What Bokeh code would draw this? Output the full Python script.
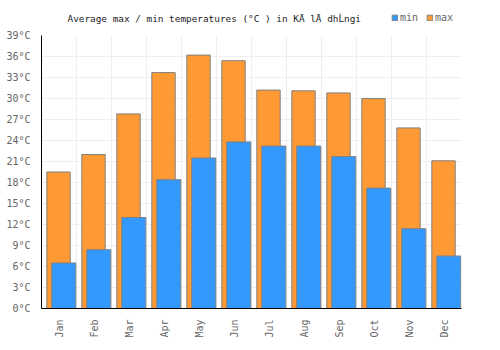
from math import pi
from bokeh.plotting import figure
from bokeh.layouts import column
from bokeh.models import FixedTicker, Label, Legend, LegendItem, ColumnDataSource
from bokeh.embed import file_html
from bokeh.resources import INLINE

months = ["Jan", "Feb", "Mar", "Apr", "May", "Jun", "Jul", "Aug", "Sep", "Oct", "Nov", "Dec"]
t_max = [19.5, 22.0, 27.8, 33.7, 36.2, 35.4, 31.2, 31.1, 30.8, 30.0, 25.8, 21.1]
t_min = [6.5, 8.4, 13.0, 18.4, 21.5, 23.8, 23.2, 23.2, 21.7, 17.2, 11.4, 7.5]
y_ticks = list(range(0, 40, 3))
title_text = "Average max / min temperatures (°C ) in KÄ lÄ dhĹngi"

FONT = "DejaVu Sans Mono"
MAX_COLOR = "#ff9933"
MIN_COLOR = "#3399ff"
EDGE = "#808080"

idx = list(range(len(months)))
src = ColumnDataSource(dict(
    xmax=[i + 0.486 for i in idx],
    xmin=[i + 0.637 for i in idx],
    tmax=t_max,
    tmin=t_min,
))

# ---- header (title + legend) ----
head = figure(width=500, height=25, x_range=(0, 500), y_range=(0, 25),
              x_axis_type=None, y_axis_type=None,
              output_backend="svg", toolbar_location=None,
              min_border=0, min_border_left=0, min_border_right=0,
              min_border_top=0, min_border_bottom=0)
head.outline_line_color = None
head.xgrid.visible = False
head.ygrid.visible = False

# legend proxies: one off-screen bar each so the legend has a glyph to draw
proxy = ColumnDataSource(dict(x=[-1000], top=[0]))
d_min = head.vbar(x="x", top="top", width=1, source=proxy,
                  fill_color=MIN_COLOR, line_color=EDGE, line_width=1)
d_max = head.vbar(x="x", top="top", width=1, source=proxy,
                  fill_color=MAX_COLOR, line_color=EDGE, line_width=1)

# (header frame is aligned with the chart frame, which starts 41px in)
head.add_layout(Label(x=26, y=7, x_units="screen", y_units="screen",
                      text=title_text, text_font=FONT, text_font_size="9.4px",
                      text_color="#222222", text_baseline="middle", text_align="left"))

legend = Legend(items=[LegendItem(label="min", renderers=[d_min], index=0),
                       LegendItem(label="max", renderers=[d_max], index=0)],
                orientation="horizontal", location=(350, 2),
                margin=0, padding=0, spacing=8,
                glyph_width=7, glyph_height=7, label_standoff=2,
                label_height=10, label_width=10,
                label_text_font=FONT, label_text_font_size="10px",
                label_text_color="#666666",
                background_fill_alpha=0, border_line_alpha=0)
head.add_layout(legend, "center")

# ---- main chart ----
p = figure(width=500, height=325, x_range=(0, 12), y_range=(0, 39),
           output_backend="svg", toolbar_location=None,
           min_border_left=41, min_border_right=39,
           min_border_top=10, min_border_bottom=42)
p.outline_line_color = None
p.background_fill_color = "white"

r_max = p.vbar(x="xmax", top="tmax", width=0.668, bottom=0, source=src,
               fill_color=MAX_COLOR, line_color=EDGE, line_width=1)
r_min = p.vbar(x="xmin", top="tmin", width=0.686, bottom=0, source=src,
               fill_color=MIN_COLOR, line_color=EDGE, line_width=1)

p.xaxis.ticker = FixedTicker(ticks=[i + 0.5 for i in idx])
p.xaxis.major_label_overrides = {i + 0.5: m for i, m in zip(idx, months)}
p.xaxis.major_label_orientation = pi / 2
p.yaxis.ticker = FixedTicker(ticks=y_ticks)
p.yaxis.major_label_overrides = {t: f"{t}°C" for t in y_ticks}
for ax in (p.xaxis, p.yaxis):
    ax.axis_line_color = "black"
    ax.axis_line_width = 1
    ax.major_tick_line_color = None
    ax.minor_tick_line_color = None
    ax.major_label_text_font = FONT
    ax.major_label_text_font_size = "10px"
    ax.major_label_text_color = "#666666"
    ax.major_label_standoff = 5

p.xgrid.ticker = FixedTicker(ticks=list(range(1, 13)))
p.ygrid.ticker = FixedTicker(ticks=y_ticks)
p.xgrid.grid_line_color = "#eeeeee"
p.ygrid.grid_line_color = "#eeeeee"

layout = column(head, p, spacing=0)
open("out.html", "w").write(file_html(layout, INLINE))
